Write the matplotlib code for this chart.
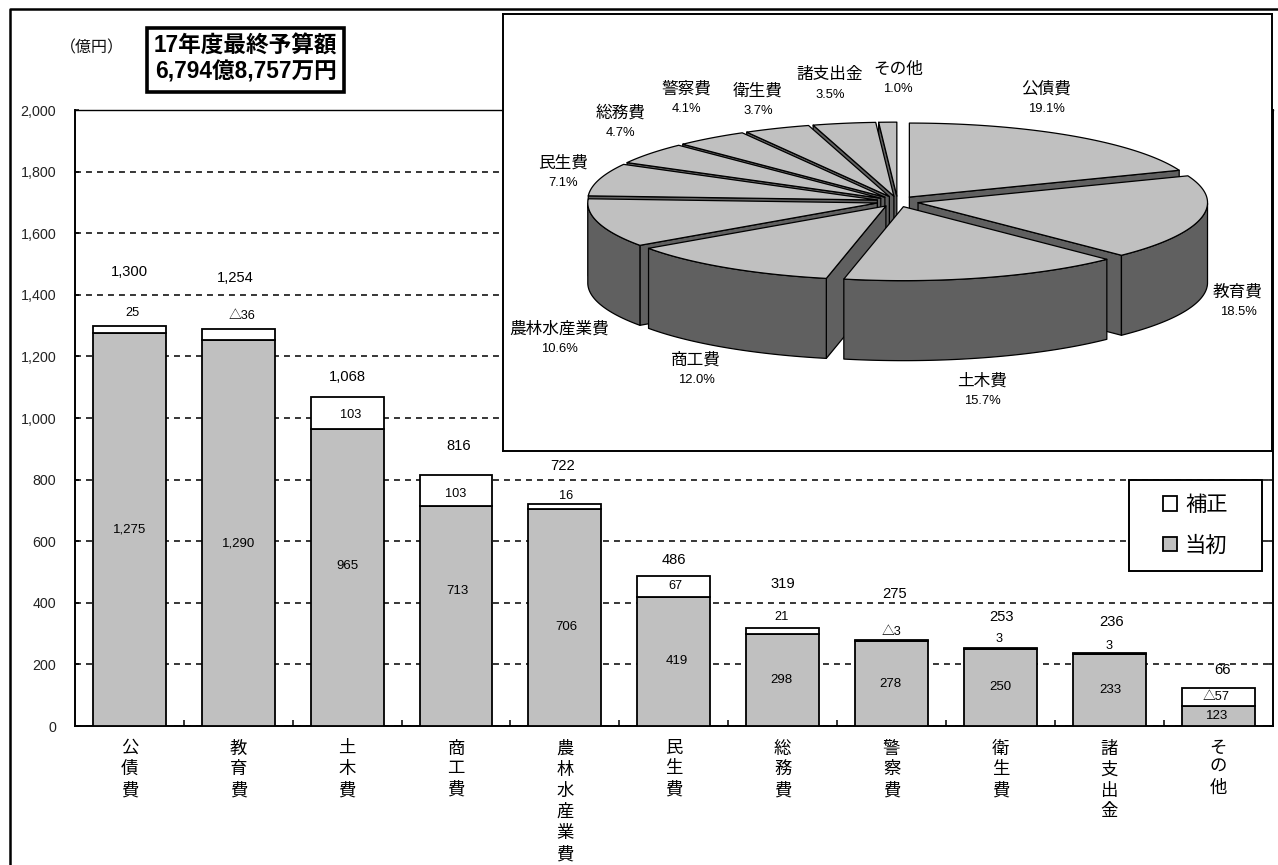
import numpy as np
import matplotlib
matplotlib.use("Agg")
import matplotlib.pyplot as plt
from matplotlib.patches import Polygon, Rectangle
from matplotlib.lines import Line2D
from matplotlib.transforms import Affine2D

plt.rcParams['font.family'] = ['Liberation Sans', 'Noto Sans CJK JP', 'DejaVu Sans']

# ---------- data ----------
categories = ['公債費', '教育費', '土木費', '商工費', '農林水産業費', '民生費', '総務費', '警察費', '衛生費', '諸支出金', 'その他']
initial = [1275, 1290, 965, 713, 706, 419, 298, 278, 250, 233, 123]
revision = [25, -36, 103, 103, 16, 67, 21, -3, 3, 3, -57]
final = [1300, 1254, 1068, 816, 722, 486, 319, 275, 253, 236, 66]
y_ticks = [0, 200, 400, 600, 800, 1000, 1200, 1400, 1600, 1800, 2000]
pie_names = ['公債費', '教育費', '土木費', '商工費', '農林水産業費', '民生費', '総務費', '警察費', '衛生費', '諸支出金', 'その他']
pie_share = [19.1, 18.5, 15.7, 12.0, 10.6, 7.1, 4.7, 4.1, 3.7, 3.5, 1.0]

# ---------- label placement (pixels) ----------
final_off = [(0.5, 53.6), (-3.4, 50.7), (0, 20), (3, 28.7), (-2, 37.6), (0, 16), (0, 43.7), (3, 46.4), (1, 31), (2, 31), (4, 18)]
rev_off = [(3.5, 12.6), (4, 12.7), (3, -18), (0, -19), (1, 8), (2, -10), (-1, 10.7), (0, 8.4), (-1, 9), (0, 7), (-2, -9)]
init_off = [(0.5, 0), (0, -11), (0, 11), (1, 25), (1, -10), (3, 0), (-1, 0), (-1, 0), (0, 0), (1, 0), (-1, 0)]
pie_label_px = [(1046, 89), (1238, 292), (982, 381), (696, 360), (559, 329), (563, 163), (621, 113), (686, 89), (758, 91), (830, 75), (898, 69)]

W, H = 1278, 865
fig = plt.figure(figsize=(W / 100, H / 100), dpi=100, facecolor='white')
px = Affine2D().scale(1, -1).translate(0, H)


def rect(l, t, r, b):
    return [l / W, 1 - b / H, (r - l) / W, (b - t) / H]


BLACK = '#000000'
GRAY = '#C0C0C0'
DARK = '#606060'

# outer frame
fig.add_artist(Line2D([10, 10, W], [H, 9, 9], transform=px, color=BLACK, lw=1.8))

# ---------- bar chart ----------
ax = fig.add_axes(rect(75, 110, 1272.5, 726))
x = np.arange(len(categories))
lower = np.minimum(initial, final)
upper = np.maximum(initial, final)
ax.bar(x, lower, width=0.67, color=GRAY, edgecolor=BLACK, lw=1.3, zorder=3, label='当初')
ax.bar(x, upper - lower, bottom=lower, width=0.67, color='white', edgecolor=BLACK, lw=1.3, zorder=3, label='補正')
ax.set_xlim(-0.5, len(categories) - 0.5)
ax.set_ylim(0, 2000)
ax.set_yticks(y_ticks)
ax.set_yticklabels([f'{v:,}' for v in y_ticks], fontsize=10.3, color='#222222')
ax.tick_params(axis='y', which='major', direction='in', length=3, width=1.1, right=True, pad=13.5)
ax.set_xticks(x)
ax.set_xticklabels(['\n'.join(c) for c in categories], fontsize=12.5, linespacing=1.37, va='top')
ax.set_xticks(np.arange(0.5, len(categories) - 0.5), minor=True)
ax.tick_params(axis='x', which='major', length=0, pad=10.5)
ax.tick_params(axis='x', which='minor', direction='in', length=4.5, width=1.1)
ax.grid(axis='y', color=BLACK, lw=1.1, linestyle=(0, (3.9, 3.3)), zorder=1)
for s in ax.spines.values():
    s.set_linewidth(1.4)
ax.spines['top'].set_linewidth(1.0)

# bar labels
for i in x:
    ax.annotate(f'{final[i]:,}', (i, upper[i]), xytext=(final_off[i][0] * .72, final_off[i][1] * .72),
                textcoords='offset points', ha='center', va='center', fontsize=10.6, zorder=5)
    rv = revision[i]
    txt = f'{rv}' if rv >= 0 else f'△{-rv}'
    ax.annotate(txt, (i, upper[i]), xytext=(rev_off[i][0] * .72, rev_off[i][1] * .72),
                textcoords='offset points', ha='center', va='center', fontsize=9.2, zorder=5)
    ax.annotate(f'{initial[i]:,}', (i, lower[i] / 2), xytext=(init_off[i][0] * .72, init_off[i][1] * .72),
                textcoords='offset points', ha='center', va='center', fontsize=9.5, zorder=5)

# legend
fig.add_artist(Rectangle((1129, 480), 133, 91, transform=px, fc='white', ec=BLACK, lw=1.4, zorder=7))
handles = [Rectangle((0, 0), 1, 1, fc='white', ec=BLACK, lw=1.3),
           Rectangle((0, 0), 1, 1, fc=GRAY, ec=BLACK, lw=1.3)]
leg = fig.legend(handles, ['補正', '当初'], loc='center left',
                 bbox_to_anchor=(1163 / W, 1 - 525.5 / H), fontsize=15.3, frameon=False,
                 handlelength=0.68, handleheight=0.68, handletextpad=0.35,
                 borderpad=0, labelspacing=0.95, borderaxespad=0)
leg.set_zorder(8)

# header texts
fig.text(92, 48, '（億円）', transform=px, ha='center', va='center', fontsize=11.5, color='#111111')
fig.add_artist(Rectangle((147, 28), 197, 64, transform=px, fc='white', ec=BLACK, lw=2.6))
fig.text(245.5, 46, '17年度最終予算額', transform=px, ha='center', va='center', fontsize=16.3, fontweight='bold')
fig.text(245.5, 72, '6,794億8,757万円', transform=px, ha='center', va='center', fontsize=16.3, fontweight='bold')

# ---------- 3-D pie ----------
box_l, box_t, box_r, box_b = 503, 14, 1272, 451
cx, cy, rx, ry = 897.5, 201.5, 289.5, 74.0
pie = fig.add_axes(rect(box_l, box_t, box_r, box_b), zorder=6)
pie.set_xlim((box_l - cx) / rx, (box_r - cx) / rx)
pie.set_ylim((cy - box_b) / ry, (cy - box_t) / ry)
pie.set_xticks([])
pie.set_yticks([])
pie.set_facecolor('white')
for s in pie.spines.values():
    s.set_linewidth(1.4)

depth = 80.0 / ry
explode = 21.0 / rx
shares = np.array(pie_share)
edges = np.concatenate([[0], np.cumsum(shares)]) / shares.sum() * 2 * np.pi
slices = []
for k in range(len(shares)):
    a0, a1 = edges[k], edges[k + 1]
    mid = (a0 + a1) / 2
    slices.append((np.cos(mid), k, a0, a1, mid))
slices.sort(reverse=True)

for _, k, a0, a1, mid in slices:
    ox, oy = explode * np.sin(mid), explode * np.cos(mid)
    th = np.linspace(a0, a1, 80)
    ex, ey = ox + np.sin(th), oy + np.cos(th)
    kw = dict(ec=BLACK, lw=0.9, joinstyle='round')
    # radial walls facing the viewer
    for a, vis in ((a0, np.sin(a0) < 0), (a1, np.sin(a1) > 0)):
        if vis:
            qx = [ox, ox + np.sin(a), ox + np.sin(a), ox]
            qy = [oy, oy + np.cos(a), oy + np.cos(a) - depth, oy - depth]
            pie.add_patch(Polygon(np.c_[qx, qy], fc=DARK, **kw))
    # outer wall (front half)
    mask = np.cos(th) <= 0
    if mask.any():
        wx, wy = ex[mask], ey[mask]
        pie.add_patch(Polygon(np.c_[np.r_[wx, wx[::-1]], np.r_[wy, wy[::-1] - depth]], fc=DARK, **kw))
    # top face
    pie.add_patch(Polygon(np.c_[np.r_[ox, ex], np.r_[oy, ey]], fc=GRAY, **kw))

for name, share, (lx, ly) in zip(pie_names, pie_share, pie_label_px):
    fig.text(lx, ly, name, transform=px, ha='center', va='center', fontsize=12, zorder=9)
    fig.text(lx, ly + 20, f'{share:.1f}%', transform=px, ha='center', va='center', fontsize=9.4, zorder=9)

fig.savefig('out.png', dpi=100)
